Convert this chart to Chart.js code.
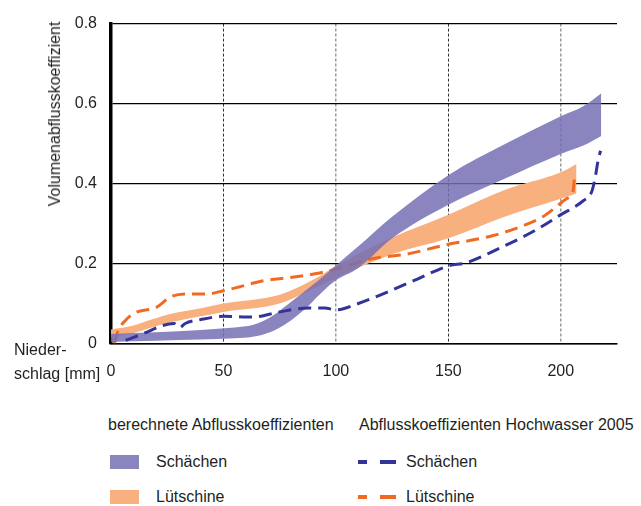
<!DOCTYPE html>
<html>
<head>
<meta charset="utf-8">
<script src="https://cdn.jsdelivr.net/npm/chart.js@4/dist/chart.umd.min.js"></script>
<style>
body { margin:0; background:#fff; width:641px; height:506px; position:relative; overflow:hidden;
  font-family:'Liberation Sans',Arial,sans-serif; color:#231f20; font-size:16px; }
#wrap { position:absolute; left:0; top:0; width:641px; height:400px; }
.ytitle { position:absolute; left:55px; top:114px; transform:translate(-50%,-50%) rotate(-90deg); white-space:nowrap; }
.xtitle { position:absolute; left:14px; top:338px; line-height:24px; }
.lg { position:absolute; white-space:nowrap; line-height:20px; }
.box { position:absolute; width:29px; height:14px; }
.dash { position:absolute; height:3.5px; }
</style>
</head>
<body>
<div id="wrap"><canvas id="chart" width="641" height="400"></canvas></div>
<div class="ytitle">Volumenabflusskoeffizient</div>
<div class="xtitle">Nieder-<br>schlag [mm]</div>
<div id="legend"></div>
<script>
const xTicks = [0, 50, 100, 150, 200]
const yTicks = [0, 0.2, 0.4, 0.6, 0.8]
const sites = ['Schächen', 'Lütschine']
const groups = ['berechnete Abflusskoeffizienten', 'Abflusskoeffizienten Hochwasser 2005']

// berechnete Abflusskoeffizienten: Band, unterer und oberer Rand
const schX = [0, 20, 40, 55, 63, 71, 78, 86, 93, 100, 110, 125, 150, 175, 200, 210, 218]
const schHigh = [0.024, 0.028, 0.034, 0.04, 0.046, 0.066, 0.095, 0.13, 0.161, 0.195, 0.243, 0.317, 0.421, 0.498, 0.568, 0.593, 0.626]
const schLow = [0.004, 0.007, 0.01, 0.013, 0.017, 0.029, 0.05, 0.085, 0.124, 0.158, 0.189, 0.263, 0.347, 0.412, 0.474, 0.495, 0.519]

const luetX = [0, 10, 17, 25, 40, 50, 75, 90, 100, 125, 150, 175, 200, 207]
const luetHigh = [0.035, 0.045, 0.058, 0.072, 0.088, 0.1, 0.122, 0.16, 0.194, 0.265, 0.322, 0.384, 0.428, 0.449]
const luetLow = [0.015, 0.026, 0.038, 0.051, 0.068, 0.079, 0.1, 0.137, 0.164, 0.223, 0.263, 0.317, 0.362, 0.375]

// Hochwasser 2005
const schHwX = [6.5, 14.5, 23, 28, 30.5, 33, 40, 50, 63, 75, 88, 95, 100, 109, 122.6, 137, 150, 158, 173, 187.7, 199.7, 210, 213.7, 215.2, 216.7, 217.7]
const schHwY = [0.008, 0.025, 0.045, 0.05, 0.04, 0.05, 0.06, 0.068, 0.066, 0.079, 0.089, 0.089, 0.084, 0.098, 0.128, 0.163, 0.194, 0.202, 0.239, 0.28, 0.321, 0.357, 0.379, 0.412, 0.461, 0.482]
const luetHwX = [1.5, 3, 6.5, 10, 20.4, 26.3, 33.7, 42.6, 50, 57.4, 67.8, 79.6, 91.5, 100, 116, 131, 150, 160, 170, 182, 192, 198, 202.5, 205.5, 206]
const luetHwY = [0, 0.03, 0.058, 0.075, 0.091, 0.116, 0.124, 0.124, 0.132, 0.142, 0.157, 0.165, 0.175, 0.186, 0.212, 0.223, 0.248, 0.258, 0.27, 0.292, 0.317, 0.342, 0.362, 0.383, 0.41]

const purple = 'rgba(117,111,180,0.85)'
const orange = '#f9b07f'
const blueLine = '#33339a'
const orangeLine = '#f26a22'
const font = {family: "'Liberation Sans',Arial,sans-serif", size: 16}

const pts = (xs, ys) => xs.map((x, i) => ({x: x, y: ys[i]}))
const band = (data, color, fill, order) => ({
  data: data, fill: fill, backgroundColor: color, borderColor: 'rgba(0,0,0,0)', borderWidth: 0,
  pointRadius: 0, cubicInterpolationMode: 'monotone', order: order
})
const dashed = (data, color, order) => ({
  data: data, fill: false, borderColor: color, borderWidth: 3, borderDash: [13, 7],
  pointRadius: 0, cubicInterpolationMode: 'monotone', order: order
})

new Chart(document.getElementById('chart'), {
  type: 'line',
  data: {
    datasets: [
      band(pts(schX, schHigh), purple, '+1', 2),
      band(pts(schX, schLow), purple, false, 2),
      band(pts(luetX, luetHigh), orange, '+1', 4),
      band(pts(luetX, luetLow), orange, false, 4),
      dashed(pts(luetHwX, luetHwY), orangeLine, 3),
      dashed(pts(schHwX, schHwY), blueLine, 1)
    ]
  },
  options: {
    responsive: false,
    animation: false,
    layout: {padding: {left: 0, top: 19, right: 24, bottom: 0}},
    plugins: {legend: {display: false}, tooltip: {enabled: false}},
    scales: {
      x: {
        type: 'linear', min: 0, max: 225,
        afterBuildTicks: s => { s.ticks = xTicks.map(v => ({value: v})) },
        afterFit: s => { s.height = 56.5 },
        grid: {
          drawTicks: false,
          color: c => c.tick.value === 0 ? 'rgba(0,0,0,0)' : (c.tick.value % 100 === 0 ? '#9a9a9a' : '#333'),
          lineWidth: c => c.tick.value % 100 === 0 ? 1.5 : 1
        },
        border: {color: '#000', width: 1.5, dash: [3, 2]},
        ticks: {padding: 18, color: '#231f20', font: font}
      },
      y: {
        min: 0, max: 0.8,
        afterBuildTicks: s => { s.ticks = yTicks.map(v => ({value: v})) },
        afterFit: s => { s.width = 111 },
        grid: {drawTicks: false, color: '#000', lineWidth: 1.2},
        border: {color: '#000', width: 3.5},
        ticks: {padding: 14, color: '#231f20', font: font}
      }
    }
  }
})

// Legende
const legend = document.getElementById('legend')
const add = (html) => { legend.insertAdjacentHTML('beforeend', html) }
add('<div class="lg" style="left:108px;top:415px">' + groups[0] + '</div>')
add('<div class="lg" style="left:359px;top:415px">' + groups[1] + '</div>')
const fills = [purple, orange]
const lines = [blueLine, orangeLine]
sites.forEach((s, i) => {
  const y = 462 + i * 35
  add('<div class="box" style="left:110px;top:' + (y - 7) + 'px;background:' + fills[i] + '"></div>')
  add('<div class="lg" style="left:156px;top:' + (y - 10) + 'px">' + s + '</div>')
  add('<div class="dash" style="left:358px;width:9px;top:' + (y - 2) + 'px;background:' + lines[i] + '"></div>')
  add('<div class="dash" style="left:380px;width:16px;top:' + (y - 2) + 'px;background:' + lines[i] + '"></div>')
  add('<div class="lg" style="left:406px;top:' + (y - 10) + 'px">' + s + '</div>')
})
</script>
</body>
</html>
